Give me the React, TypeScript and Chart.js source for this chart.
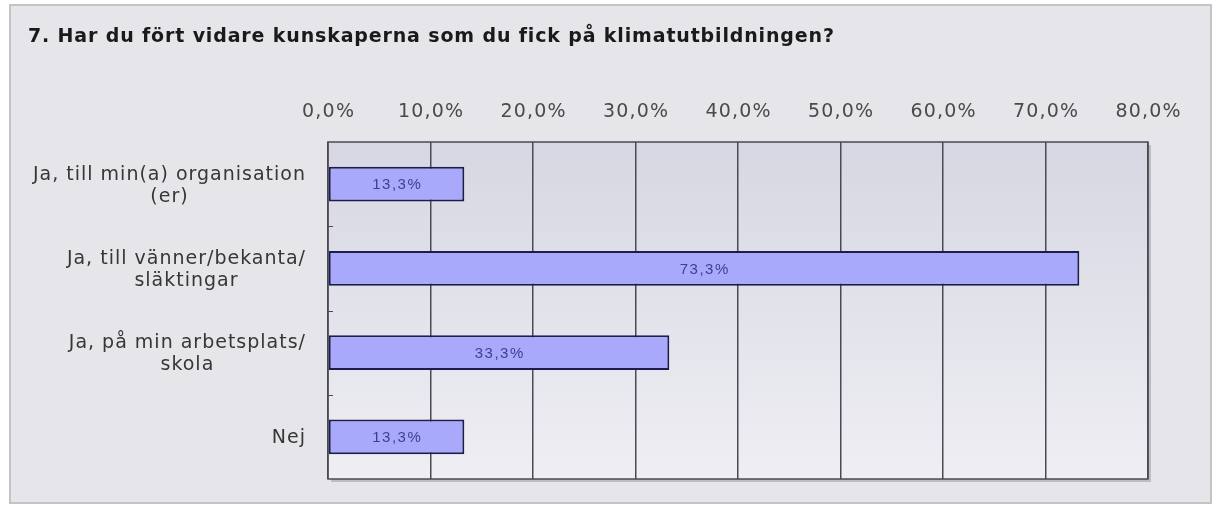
import React, { useEffect, useRef } from "react";
import { Chart, registerables } from "chart.js";

Chart.register(...registerables);

const title = "7. Har du fört vidare kunskaperna som du fick på klimatutbildningen?";
const categories: string[][] = [
  ["Ja, till min(a) organisation", "(er)"],
  ["Ja, till vänner/bekanta/", "släktingar"],
  ["Ja, på min arbetsplats/", "skola"],
  ["Nej"],
];
const values: number[] = [13.3, 73.3, 33.3, 13.3];
const valueLabels: string[] = ["13,3%", "73,3%", "33,3%", "13,3%"];
const xMin = 0;
const xMax = 80;
const xStep = 10;

const FONT = "'DejaVu Sans', Verdana, sans-serif";
const fmt = (v: number) => v.toFixed(1).replace(".", ",") + "%";

const frame = {
  id: "frame",
  beforeDraw(chart: any) {
    const { ctx, chartArea } = chart;
    ctx.save();
    ctx.fillStyle = "#ffffff";
    ctx.fillRect(0, 0, chart.width, chart.height);
    ctx.fillStyle = "#e6e6ea";
    ctx.fillRect(10, 5, 1201, 498);
    ctx.strokeStyle = "#c4c4c4";
    ctx.lineWidth = 2;
    ctx.strokeRect(10, 5, 1201, 498);
    // title
    ctx.fillStyle = "#1a1a1a";
    ctx.font = `bold 19px ${FONT}`;
    (ctx as any).letterSpacing = "0.85px";
    ctx.textAlign = "left";
    ctx.textBaseline = "alphabetic";
    ctx.fillText(title, 28, 42);
    (ctx as any).letterSpacing = "0px";
    // plot shadow
    const { left, top, right, bottom } = chartArea;
    ctx.fillStyle = "#bdbdc4";
    ctx.fillRect(left + 3, top + 3, right - left, bottom - top);
    // plot bg gradient
    const g = ctx.createLinearGradient(left, top, left, bottom);
    g.addColorStop(0, "#d7d7e3");
    g.addColorStop(1, "#eeeef3");
    ctx.fillStyle = g;
    ctx.fillRect(left, top, right - left, bottom - top);
    ctx.restore();
  },
  afterDatasetsDraw(chart: any) {
    const { ctx, chartArea } = chart;
    const { left, top, right, bottom } = chartArea;
    const y = chart.scales.y;
    const x = chart.scales.x;
    ctx.save();
    ctx.strokeStyle = "#4a4a55";
    ctx.lineWidth = 1.5;
    ctx.strokeRect(left, top, right - left, bottom - top);
    // category tick marks at band boundaries
    ctx.lineWidth = 1;
    for (let i = 1; i < categories.length; i++) {
      const yy = (y.getPixelForValue(i - 1) + y.getPixelForValue(i)) / 2;
      ctx.beginPath();
      ctx.moveTo(left, Math.round(yy) + 0.5);
      ctx.lineTo(left + 5, Math.round(yy) + 0.5);
      ctx.stroke();
    }
    // x tick labels
    ctx.font = `19px ${FONT}`;
    (ctx as any).letterSpacing = "1.2px";
    ctx.fillStyle = "#4a4a4a";
    ctx.textAlign = "center";
    ctx.textBaseline = "alphabetic";
    x.ticks.forEach((t: any) => {
      ctx.fillText(fmt(t.value), x.getPixelForValue(t.value) + 0.6, 117);
    });
    // category labels: block right-aligned, lines centered within block
    ctx.font = `19px ${FONT}`;
    (ctx as any).letterSpacing = "1px";
    ctx.fillStyle = "#363636";
    ctx.textAlign = "center";
    ctx.textBaseline = "middle";
    const lh = 22;
    categories.forEach((lines, i) => {
      const w = Math.max(...lines.map((l) => ctx.measureText(l).width));
      const cx = left - 22 - w / 2;
      const cy = y.getPixelForValue(i) + 1.5;
      const y0 = cy - ((lines.length - 1) * lh) / 2;
      lines.forEach((l, k) => ctx.fillText(l, cx, y0 + k * lh));
    });
    // value labels
    const meta = chart.getDatasetMeta(0);
    ctx.font = `15px 'Liberation Sans', Arial, sans-serif`;
    (ctx as any).letterSpacing = "1.5px";
    ctx.fillStyle = "#3e3e94";
    meta.data.forEach((bar: any, i: number) => {
      const cx = (bar.base + bar.x) / 2;
      ctx.fillText(valueLabels[i], cx + 0.75, bar.y + 1);
    });
    (ctx as any).letterSpacing = "0px";
    ctx.restore();
  },
};

export default function App() {
  const ref = useRef<HTMLCanvasElement>(null);
  useEffect(() => {
    if (!ref.current) return;
    const chart = new Chart(ref.current, {
      type: "bar",
      data: {
        labels: categories.map((c) => c.join(" ")),
        datasets: [
          {
            data: values,
            backgroundColor: "#a9a9fb",
            borderColor: "#1c1c4e",
            borderWidth: 2,
            borderSkipped: false,
            barPercentage: 0.41,
            categoryPercentage: 1,
          },
        ],
      },
      options: {
        indexAxis: "y",
        animation: false,
        responsive: false,
        maintainAspectRatio: false,
        events: [],
        layout: { padding: { left: 328, right: 1213 - 1148, top: 0, bottom: 506 - 479 } },
        plugins: { legend: { display: false }, tooltip: { enabled: false } },
        scales: {
          x: {
            position: "top",
            min: xMin,
            max: xMax,
            ticks: { stepSize: xStep, display: false },
            grid: { color: "#4a4a55", lineWidth: 1.5, drawTicks: false },
            border: { display: false },
            afterFit: (s: any) => {
              s.height = 142;
            },
          },
          y: {
            ticks: { display: false },
            grid: { display: false },
            border: { display: false },
            afterFit: (s: any) => {
              s.width = 0;
            },
          },
        },
      },
      plugins: [frame],
    });
    return () => chart.destroy();
  }, []);
  return (
    <div style={{ position: "fixed", left: 0, top: 0, width: 1213, height: 506 }}>
      <canvas ref={ref} width={1213} height={506} style={{ display: "block" }} />
    </div>
  );
}
